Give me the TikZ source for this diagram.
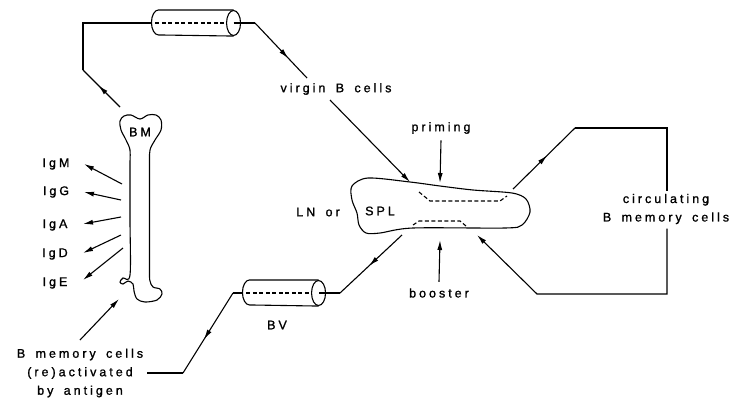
\documentclass[tikz,border=0pt]{standalone}
\usepackage{fontspec}
\setmainfont{Liberation Sans}[LetterSpace=24,WordSpace=1.6,FakeBold=1.2]
\usetikzlibrary{arrows.meta,decorations.markings,calc}
\begin{document}
\begin{tikzpicture}[x=1pt,y=-1pt,line width=1.1pt,
  font=\fontsize{12.5}{18.5}\selectfont,
  tip/.style={-{Latex[length=10pt,width=5pt]}},
  midarrow/.style={postaction={decorate},decoration={markings,mark=at position #1 with {\arrow{Latex[length=10pt,width=5pt]}}}},
  vessel/.style={inner sep=0pt,minimum height=25pt},
  dsh/.style={dash pattern=on 4pt off 2.5pt},
  lbl/.style={inner sep=0pt}]
\useasboundingbox (0,0) rectangle (734,397);

% vessels (named nodes, outline drawn from their anchors)
\node[vessel,minimum width=88pt] (cylA) at (196,23) {};
\node[vessel,minimum width=82pt] (cylB) at (284,293) {};
\foreach \c in {cylA,cylB}{
  \draw ($(\c.north east)+(-7,0)$) -- ($(\c.north west)+(7,0)$)
        arc[start angle=270,end angle=90,x radius=7,y radius=12.5]
        -- ($(\c.south east)+(-7,0)$);
  \draw ($(\c.east)+(-7,0)$) ellipse[x radius=7,y radius=12.5];
  \draw[dsh] ($(\c.west)+(4,0)$) -- ($(\c.east)+(-14,0)$);
}

% bone marrow
\draw plot[smooth cycle,tension=0.55] coordinates {
 (130,165) (130,150) (126,140) (121,130) (120,121) (124,116) (131,115)
 (140,119) (148,115) (156,115) (161,120) (161,130) (155,140) (150,150)
 (149.5,165) (149.5,220) (149.5,272) (150,281) (153,287) (160,289) (162,294)
 (157,300) (145,302) (137,299) (134,291) (133,284) (128,281) (123,284)
 (120,282) (123,278) (130,275) (130,220)};
\node[lbl] (bm) at (140,132) {BM};

% lymph node / spleen
\draw plot[smooth cycle,tension=0.5] coordinates {
 (352,186) (352,200) (357,213) (359,225) (366,233) (380,233) (413,228)
 (505,228) (522,225) (530,212) (526,199) (512,193) (473,190) (440,186)
 (410,182) (368,178)};
\draw[dsh] (419,192) -- (430,201) -- (500,201) -- (507,196);
\draw[dsh] (413,225) -- (419,221) -- (460,221) -- (466,226);

% labels
\node[lbl] (virgin) at (336,89) {virgin B cells};
\node[lbl] (priming) at (441,128) {priming};
\node[lbl] (booster) at (439,293) {booster};
\node[lbl] (lnor) at (318,212) {LN or};
\node[lbl] (spl) at (380,211) {SPL};
\node[lbl] (bv) at (277,325) {BV};
\node[lbl,align=center] (circ) at (666,209) {circulating\\B memory cells};
\node[lbl,align=center] (mem) at (80,373) {B memory cells\\(re)activated\\by antigen};
\node[lbl] (igm) at (56,164) {IgM};
\node[lbl] (igg) at (56,192) {IgG};
\node[lbl] (iga) at (55,225) {IgA};
\node[lbl] (igd) at (55,254) {IgD};
\node[lbl] (ige) at (55,283) {IgE};

% coordinates
\coordinate (bmtop) at (120,107);
\coordinate (k1) at (83,70);
\coordinate (k2) at (255,23);
\coordinate (k3) at (307,78);
\coordinate (vend) at (410,182);
\coordinate (vstart) at (330,100);
\coordinate (pend) at (440,183);
\coordinate (bend) at (440,240);
\coordinate (lnR) at (513,189);
\coordinate (k5) at (575,128);
\coordinate (k6) at (667,128);
\coordinate (k7) at (667,294);
\coordinate (k8) at (537,294);
\coordinate (lnBR) at (477,235);
\coordinate (lnBL) at (402,235);
\coordinate (k11) at (340,293);
\coordinate (k9) at (233,293);
\coordinate (k10) at (183,373);
\coordinate (k12) at (147,373);
\coordinate (mtail) at (80,340);
\coordinate (bmlow) at (119,299);
\coordinate (sm) at (122,184);
\coordinate (sg) at (121,200);
\coordinate (sa) at (121,217);
\coordinate (sd) at (121,235);
\coordinate (se) at (123,248);
\coordinate (tm) at (84,164);
\coordinate (tg) at (84,192);
\coordinate (ta) at (83,224);
\coordinate (td) at (83,253);
\coordinate (te) at (83,280);

% connectors
\draw[midarrow=0.58] (bmtop) -- (k1);
\draw (k1) |- (cylA.west);
\draw ($(cylA.east)+(-7,0)$) -- (k2);
\draw[midarrow=0.64] (k2) -- (k3);
\draw[tip] (vstart) -- (vend);
\draw[tip] (priming.south) ++(0,6) -- (pend);
\draw[tip] (booster.north) ++(0,-6) -- (bend);
\draw[midarrow=0.55] (lnR) -- (k5);
\draw (k5) -- (k6) -- ($(circ.north -| k6)+(0,-2)$);
\draw[tip] ($(circ.south -| k6)+(0,4)$) -- (k7) -- (k8) -- (lnBR);
\draw[midarrow=0.53] (lnBL) -- (k11);
\draw (k11) -- ($(cylB.east)+(-7,0)$);
\draw (cylB.west) -- (k9);
\draw[midarrow=0.58] (k9) -- (k10);
\draw (k10) -- (k12);
\draw[tip] (mtail) -- (bmlow);
\draw[tip] (sm) -- (tm);
\draw[tip] (sg) -- (tg);
\draw[tip] (sa) -- (ta);
\draw[tip] (sd) -- (td);
\draw[tip] (se) -- (te);
\end{tikzpicture}
\end{document}
